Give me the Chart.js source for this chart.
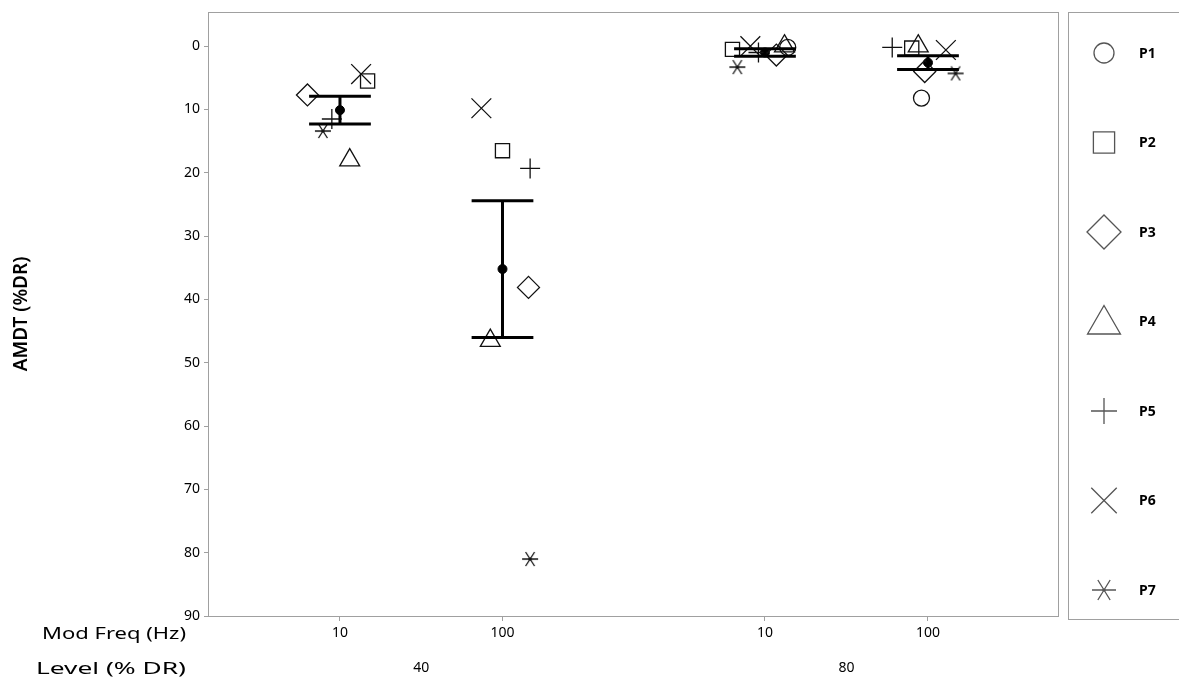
<!DOCTYPE html>
<html>
<head>
<meta charset="utf-8">
<script src="https://cdn.jsdelivr.net/npm/chart.js@4/dist/chart.umd.min.js"></script>
<style>
  body { margin: 0; background: #fff; }
  #wrap { width: 1179px; height: 687px; }
</style>
</head>
<body>
<div id="wrap"><canvas id="amdt"></canvas></div>
<script>
// categories
var freqLabels = ['10', '100', '10', '100'];
var levelLabels = ['40', '80'];
var groupPos = [1, 2, 3.615, 4.618];
var levelPos = [1.5, 4.117];
var yTicks = [0, 10, 20, 30, 40, 50, 60, 70, 80, 90];

// AMDT (%DR) per participant, one value per group (null = no data)
var p1 = [null, null, 0.2, 8.2];
var p2 = [5.5, 16.5, 0.5, 0.3];
var p3 = [7.7, 38.1, 1.4, 4.0];
var p4 = [18.0, 46.5, 0.0, 0.0];
var p5 = [11.5, 19.3, 1.0, 0.2];
var p6 = [4.4, 9.8, 0.0, 0.6];
var p7 = [13.4, 81.0, 3.3, 4.3];

// horizontal jitter of each participant inside a group
var jit1 = [0, 0, 0.14, -0.04];
var jit2 = [0.17, 0.0, -0.2, -0.1];
var jit3 = [-0.2, 0.16, 0.07, -0.02];
var jit4 = [0.06, -0.075, 0.12, -0.06];
var jit5 = [-0.05, 0.17, -0.04, -0.22];
var jit6 = [0.13, -0.13, -0.09, 0.11];
var jit7 = [-0.105, 0.17, -0.17, 0.17];

// group means and standard errors
var meanVals = [10.1, 35.2, 1.0, 2.6];
var seVals = [2.2, 10.8, 0.6, 1.1];

var names = ['P1', 'P2', 'P3', 'P4', 'P5', 'P6', 'P7'];
var allVals = [p1, p2, p3, p4, p5, p6, p7];
var allJit = [jit1, jit2, jit3, jit4, jit5, jit6, jit7];

function makeAsterisk(w, h, lw, col) {
    var c = document.createElement('canvas');
    c.width = w; c.height = h;
    var g = c.getContext('2d');
    g.strokeStyle = col; g.fillStyle = col; g.lineWidth = lw;
    var cx = w / 2, cy = h / 2;
    g.beginPath();
    g.moveTo(1, cy); g.lineTo(w - 1, cy);
    g.moveTo(cx - h * 0.28, 1); g.lineTo(cx + h * 0.28, h - 1);
    g.moveTo(cx + h * 0.28, 1); g.lineTo(cx - h * 0.28, h - 1);
    g.stroke();
    g.beginPath(); g.arc(cx, cy, lw * 1.2, 0, Math.PI * 2); g.fill();
    return c;
}

var starSmall = makeAsterisk(18, 16, 1.3, '#111');
var starBig = makeAsterisk(26, 22, 1.3, '#555');

var styles = ['circle', 'rect', 'rectRot', 'triangle', 'cross', 'crossRot', starSmall];
var radii = [8, 10, 11, 11.5, 10, 14, 8];
var legendStyles = ['circle', 'rect', 'rectRot', 'triangle', 'cross', 'crossRot', starBig];
var legendRadii = [10, 15, 17, 19, 13, 18, 10];

var datasets = names.map(function (n, k) {
    var pts = [];
    allVals[k].forEach(function (v, i) {
        if (v !== null) pts.push({ x: groupPos[i] + allJit[k][i], y: v });
    });
    return {
        label: n,
        data: pts,
        pointStyle: styles[k],
        pointRadius: radii[k],
        borderColor: '#111',
        backgroundColor: 'rgba(0,0,0,0)',
        pointBorderWidth: 1.3
    };
});

datasets.push({
    label: 'Mean',
    data: meanVals.map(function (m, i) { return { x: groupPos[i], y: m }; }),
    pointStyle: 'circle',
    pointRadius: 4.5,
    borderColor: '#000',
    backgroundColor: '#000',
    pointBorderWidth: 1
});

var errorBars = {
    id: 'errorBars',
    afterDatasetsDraw: function (chart) {
        var ctx = chart.ctx, xs = chart.scales.x, ys = chart.scales.y;
        ctx.save();
        ctx.strokeStyle = '#000';
        ctx.lineWidth = 3;
        meanVals.forEach(function (m, i) {
            var x = xs.getPixelForValue(groupPos[i]);
            var xl = xs.getPixelForValue(groupPos[i] - 0.19);
            var xr = xs.getPixelForValue(groupPos[i] + 0.19);
            var yt = ys.getPixelForValue(m - seVals[i]);
            var yb = ys.getPixelForValue(m + seVals[i]);
            ctx.beginPath();
            ctx.moveTo(x, yt); ctx.lineTo(x, yb);
            ctx.moveTo(xl, yt); ctx.lineTo(xr, yt);
            ctx.moveTo(xl, yb); ctx.lineTo(xr, yb);
            ctx.stroke();
        });
        ctx.restore();
    }
};

// text stretched to a given width (the original labels are drawn wide)
function wideText(ctx, txt, right, y, width) {
    var w = ctx.measureText(txt).width;
    ctx.save();
    ctx.translate(right - width, y);
    ctx.scale(width / w, 1);
    ctx.textAlign = 'left';
    ctx.fillText(txt, 0, 0);
    ctx.restore();
}

var frame = {
    id: 'frame',
    afterDraw: function (chart) {
        var ctx = chart.ctx, a = chart.chartArea;
        ctx.save();
        ctx.strokeStyle = '#a0a0a0';
        ctx.lineWidth = 1;
        ctx.strokeRect(Math.round(a.left) + 0.5, Math.round(a.top) + 0.5,
            Math.round(a.right - a.left), Math.round(a.bottom - a.top));

        // row labels of the two x axes
        ctx.fillStyle = '#000';
        ctx.font = '16px "Noto Sans"';
        ctx.textBaseline = 'middle';
        wideText(ctx, 'Mod Freq (Hz)', 186, 634, 144);
        wideText(ctx, 'Level (% DR)', 186, 669, 150);

        // legend box
        ctx.strokeStyle = '#a0a0a0';
        ctx.strokeRect(1068.5, 12.5, 130, 607);
        names.forEach(function (n, k) {
            var y = 53 + k * 89.5;
            ctx.strokeStyle = '#555';
            ctx.fillStyle = 'rgba(0,0,0,0)';
            ctx.lineWidth = 1.3;
            Chart.helpers.drawPoint(ctx, {
                pointStyle: legendStyles[k], radius: legendRadii[k], rotation: 0, borderWidth: 1.3
            }, 1104, y + (k === 3 ? 3 : 0));
            ctx.fillStyle = '#000';
            ctx.font = 'bold 14px "Noto Sans"';
            ctx.textAlign = 'left';
            ctx.fillText(n, 1139, y + 1);
        });
        ctx.restore();
    }
};

new Chart(document.getElementById('amdt').getContext('2d'), {
    type: 'scatter',
    data: { datasets: datasets },
    plugins: [errorBars, frame],
    options: {
        responsive: true,
        maintainAspectRatio: false,
        animation: false,
        events: [],
        layout: { autoPadding: false, padding: { left: 0, top: 12, right: 121, bottom: 0 } },
        plugins: { legend: { display: false }, tooltip: { enabled: false } },
        scales: {
            x: {
                type: 'linear',
                position: 'bottom',
                min: 0.188,
                max: 5.418,
                afterBuildTicks: function (s) { s.ticks = groupPos.map(function (v) { return { value: v }; }); },
                afterFit: function (s) { s.height = 30; },
                border: { display: false },
                grid: { drawOnChartArea: false, tickLength: 5, color: '#a0a0a0' },
                ticks: {
                    autoSkip: false, maxRotation: 0, padding: 4, color: '#000',
                    font: { family: 'Noto Sans', size: 14 },
                    callback: function (v, i) { return freqLabels[i]; }
                }
            },
            x2: {
                type: 'linear',
                position: 'bottom',
                min: 0.188,
                max: 5.418,
                afterBuildTicks: function (s) { s.ticks = levelPos.map(function (v) { return { value: v }; }); },
                afterFit: function (s) { s.height = 41; },
                border: { display: false },
                grid: { display: false, drawTicks: false },
                ticks: {
                    autoSkip: false, maxRotation: 0, padding: 14, color: '#000',
                    font: { family: 'Noto Sans', size: 14 },
                    callback: function (v, i) { return levelLabels[i]; }
                }
            },
            y: {
                reverse: true,
                min: -5.4,
                max: 90,
                afterBuildTicks: function (s) { s.ticks = yTicks.map(function (v) { return { value: v }; }); },
                afterFit: function (s) { s.width = 208; s.paddingTop = 0; s.paddingBottom = 0; },
                border: { display: false },
                grid: { drawOnChartArea: false, tickLength: 4, color: '#a0a0a0' },
                ticks: { padding: 4, color: '#000', font: { family: 'Noto Sans', size: 14 } },
                title: {
                    display: true,
                    text: 'AMDT (%DR)',
                    color: '#000',
                    padding: { top: 10, bottom: 0 },
                    font: { family: 'Noto Sans', size: 19, weight: '600' }
                }
            }
        }
    }
});
</script>
</body>
</html>
